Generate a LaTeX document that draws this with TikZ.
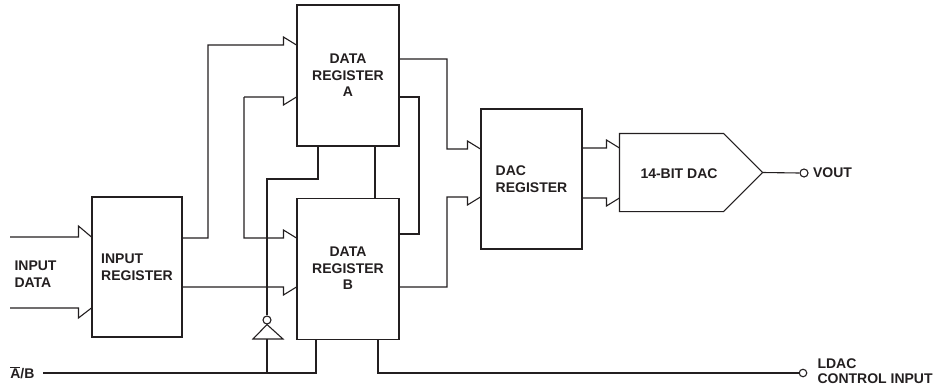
\documentclass[tikz,border=0pt]{standalone}
\usepackage{fontspec}
\setmainfont{Liberation Sans}
\usepackage{xcolor}
\definecolor{wire}{RGB}{35, 31, 32}
\usepackage{tikz}
\usetikzlibrary{positioning}
\tikzstyle{reg} = [
    rectangle, draw,
    minimum width=102pt,
    minimum height=141pt,
    align=center,
    inner sep=0pt
]
\tikzstyle{lbl} = [
    align=left,
    inner sep=0pt
]
\tikzstyle{pin} = [
    circle, draw,
    minimum size=8pt,
    inner sep=0pt
]
\tikzset{
    busup/.style={to path={-- ([xshift=-13pt]\tikztotarget) -- ++(0,-#1) -- (\tikztotarget)}},
    busup/.default=8,
    busdown/.style={to path={-- ([xshift=-13pt]\tikztotarget) -- ++(0,#1) -- (\tikztotarget)}},
    busdown/.default=8
}

\begin{document}
\begin{tikzpicture}[
    x=1pt, y=-1pt,
    color=wire,
    line width=1.1pt,
    font=\fontsize{14}{16.5}\selectfont\bfseries
]
\useasboundingbox (0,0) rectangle (933,388);

\node (inreg) [reg, minimum width=90pt, minimum height=140pt, align=left] at (137,267)
    {INPUT\\REGISTER};
\node (dra) [reg] at (348,75.5)
    {DATA\\REGISTER\\A};
\node (drb) [reg, below=51pt of dra]
    {DATA\\REGISTER\\B};
\node (dacreg) [reg, minimum width=101pt, minimum height=140pt, align=left] at (531.5,179)
    {DAC\\REGISTER};
\node (dac) [inner sep=0pt, minimum width=103pt, minimum height=77pt] at (671.5,172.5) {};
\coordinate (dactip) at ([xshift=39pt]dac.east);
\node (daclbl) [lbl] at (679,174) {14-BIT DAC};

\coordinate (din1) at (10,237);
\coordinate (din2) at (10,308);
\coordinate (absel) at (43,373);
\node (indata) [lbl, anchor=west] at (14,274) {INPUT\\DATA};
\node (ab) [lbl, left=8pt of absel] {$\overline{\mbox{A}}$/B};
\node (vout) [pin] at (804,173) {};
\node (voutlbl) [lbl, right=4pt of vout] {VOUT};
\node (ldac) [pin, minimum size=7.5pt] at (803,373) {};
\node (ldaclbl) [lbl, anchor=west, font=\fontsize{14}{15}\selectfont\bfseries] at (817,371.5)
    {LDAC\\CONTROL INPUT};
\node (invb) [pin] at (267,320) {};
\coordinate (invin) at (267,339);

% input bus
\draw (din1) to[busup=11] (inreg.west |- din1);
\draw (din2) to[busdown=10] (inreg.west |- din2);

\draw (inreg.east |- 0,238) -| (208,45) to[busup] (dra.west |- 0,45);
\draw (inreg.east |- 0,287) to[busdown] (drb.west |- 0,287);
\draw (244,97) to[busdown] (dra.west |- 0,97);
\draw (244,97) -- (244,238) to[busup] (drb.west |- 0,238);

% A/B select with inverter
\draw (dra.south -| 318,0) |- (267,179) -- (invb.north);
\draw (invb.south) -- (253,339) -- (283,339) -- cycle;
\draw (invin) -- (invin |- absel);
\draw (absel) -| (drb.south -| 316,0);
\draw (dra.south -| 375,0) -- (drb.north -| 375,0);
\draw (drb.south -| 378,0) |- (ldac.west);

% to DAC register and DAC
\draw (dra.east |- 0,59) -| (447,149) to[busup] (dacreg.west |- 0,149);
\draw (dra.east |- 0,97) -| (419,234) -- (drb.east |- 0,234);
\draw (drb.east |- 0,287) -| (447,197) to[busdown] (dacreg.west |- 0,197);
\draw (dacreg.east |- 0,148) to[busup] (dac.west |- 0,148);
\draw (dacreg.east |- 0,198) to[busdown] (dac.west |- 0,198);
\draw (dac.north west) -- (dac.north east) -- (dactip) -- (dac.south east) -- (dac.south west) -- cycle;
\draw (dactip) -- (vout.west);

\end{tikzpicture}
\end{document}
